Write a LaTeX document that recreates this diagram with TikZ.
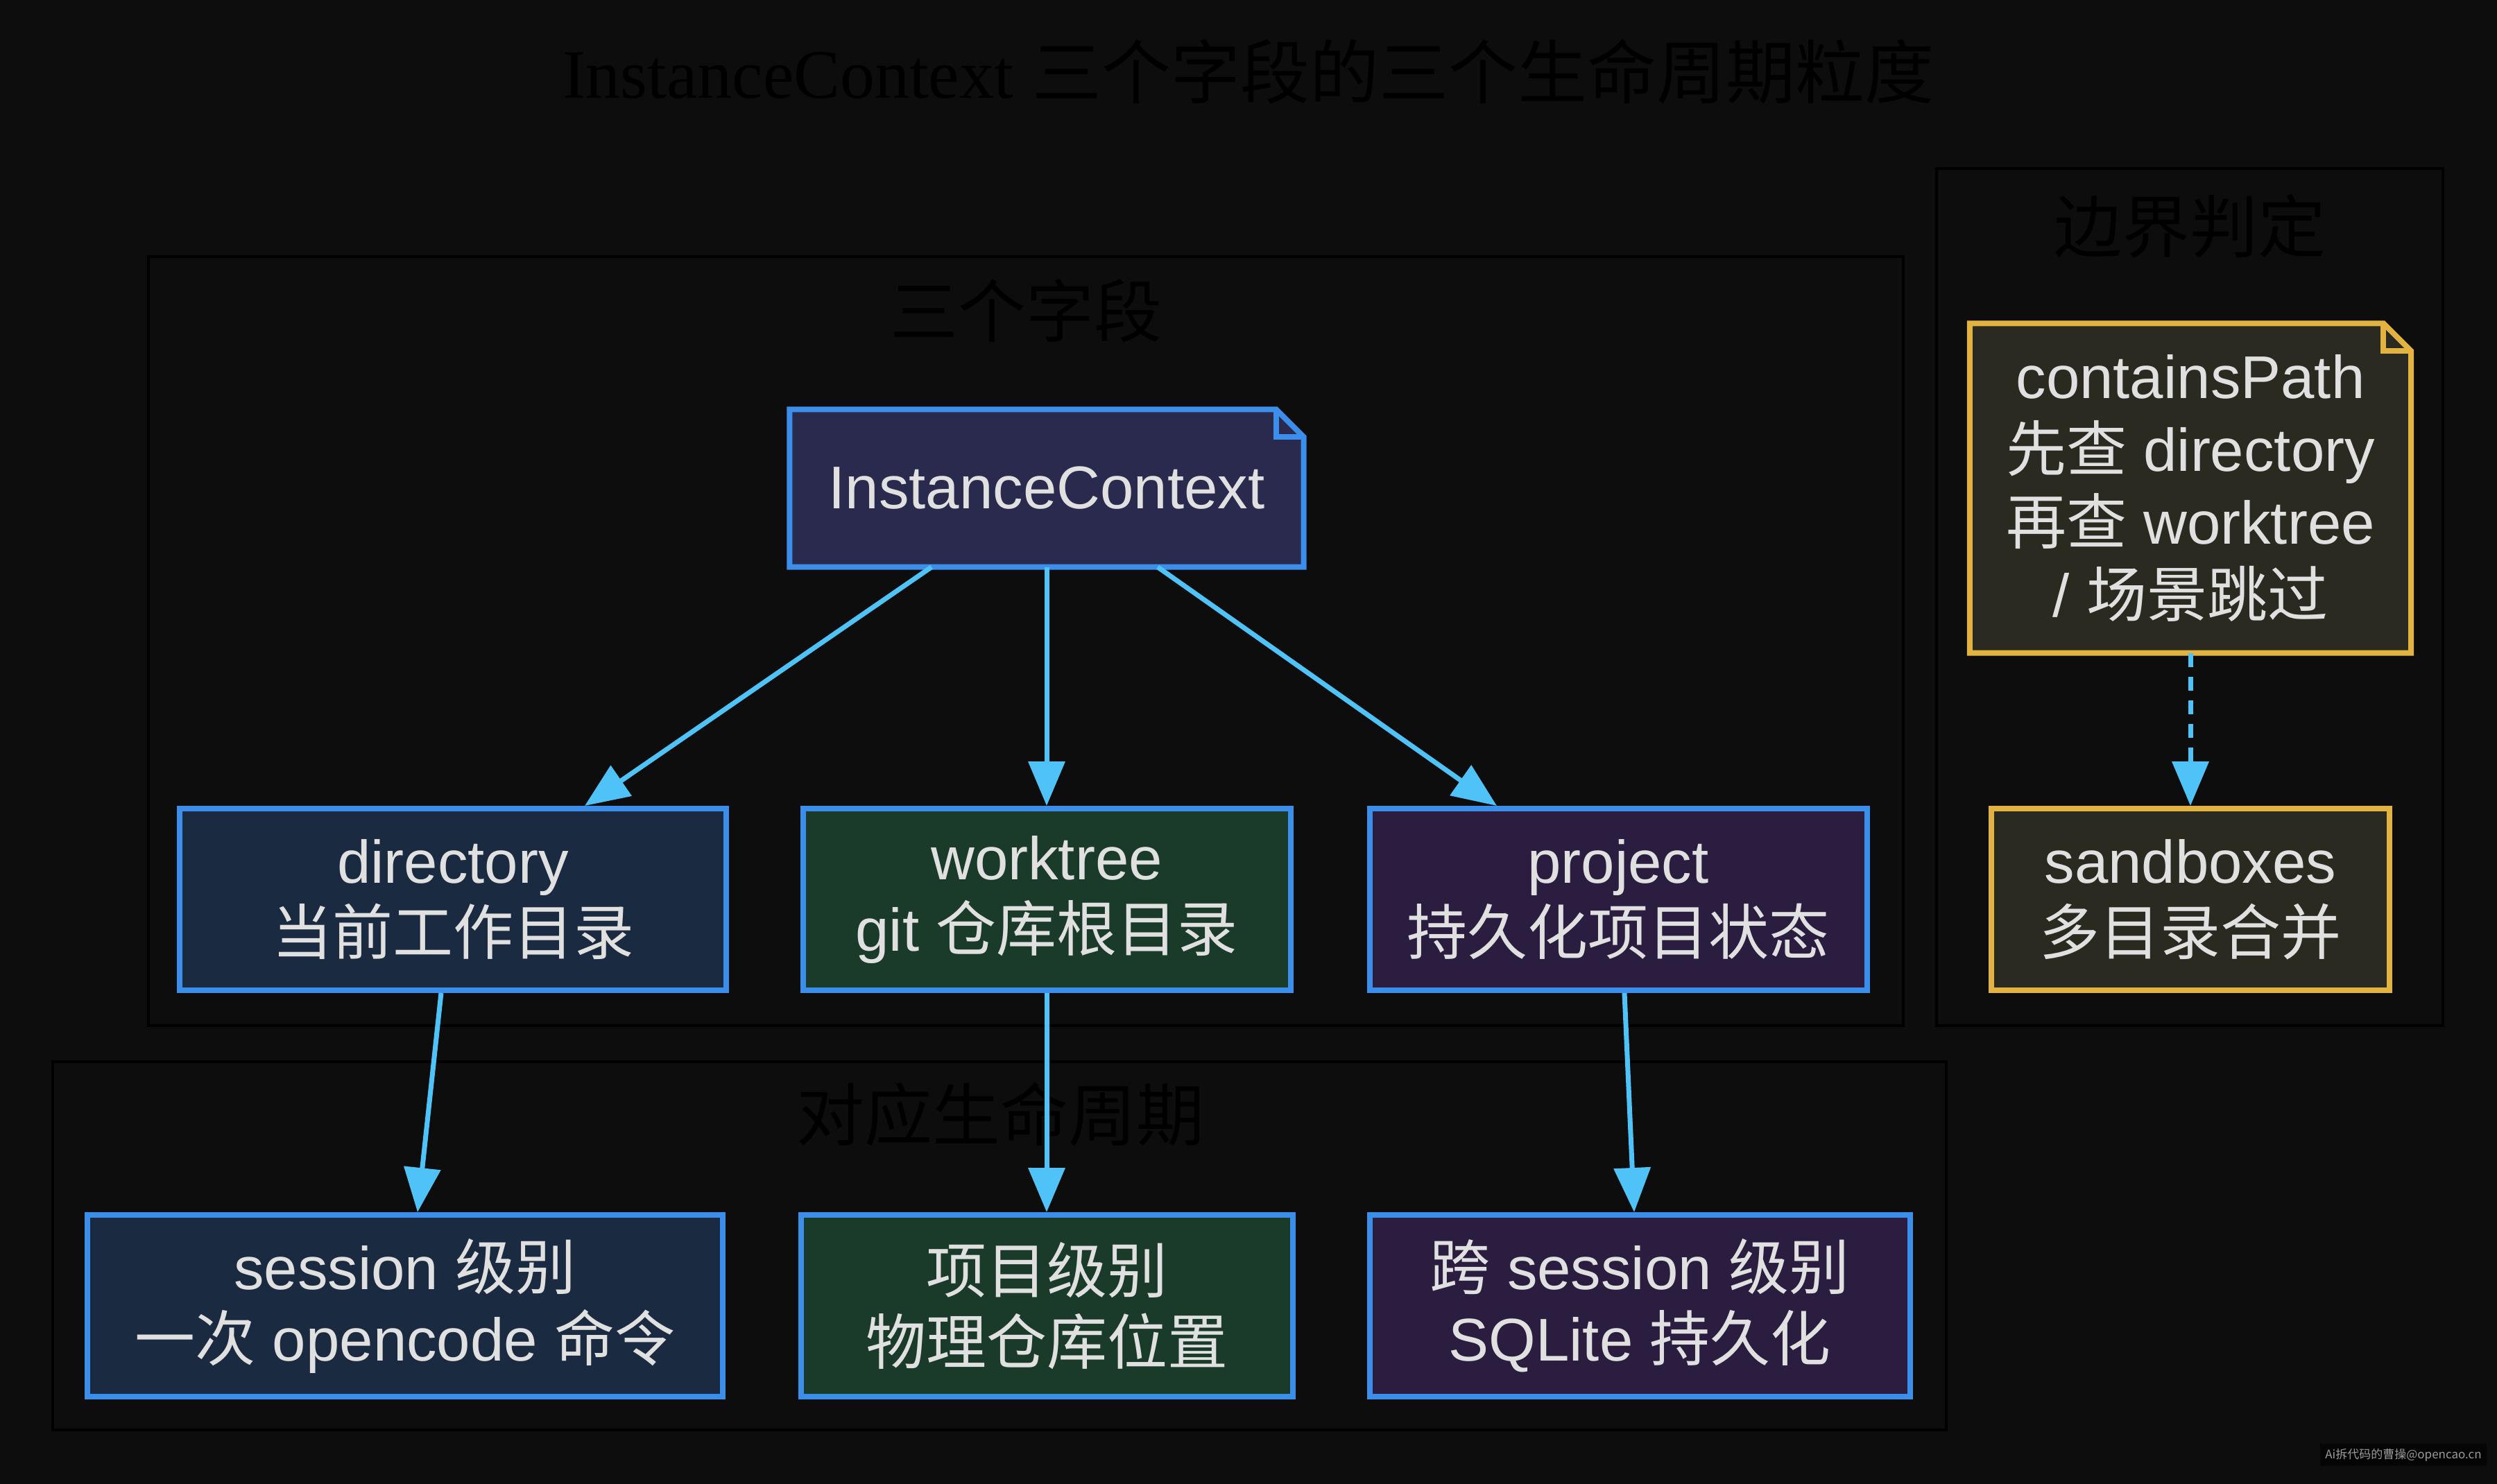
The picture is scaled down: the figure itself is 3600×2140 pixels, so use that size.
\documentclass[tikz,border=0pt]{standalone}
\usepackage{fontspec}
\setmainfont{Liberation Sans}
\newfontfamily\zhfont{Noto Sans CJK SC}
\newfontfamily\titleserif{Liberation Serif}
\usetikzlibrary{arrows.meta}
\newcommand\zh[1]{{\zhfont #1}}
\definecolor{bgc}{HTML}{0D0D0D}
\definecolor{txt}{HTML}{E0E0E0}
\definecolor{edgec}{HTML}{4FC3F7}
\definecolor{blueb}{HTML}{3B8EEA}
\definecolor{goldb}{HTML}{E3B341}
\definecolor{icfill}{HTML}{2A2A4E}
\definecolor{navyfill}{HTML}{1A2A40}
\definecolor{greenfill}{HTML}{1A3A2A}
\definecolor{purplefill}{HTML}{2A1D40}
\definecolor{olivefill}{HTML}{2A2A20}
\definecolor{wmfill}{HTML}{050505}
\definecolor{wmtext}{HTML}{9A9A9A}
\pgfdeclarelayer{back}
\pgfdeclarelayer{notes}
\pgfsetlayers{back,notes,main}
\tikzset{
  nodebox/.style={rectangle, draw=blueb, line width=8pt, text=txt, align=center,
    inner sep=0pt, minimum height=262pt, font=\fontsize{87}{103}\selectfont},
  notebox/.style={rectangle, draw=none, text=txt, align=center, inner sep=0pt,
    font=\fontsize{87}{105}\selectfont},
  cluster/.style={rectangle, draw=black, line width=4pt, inner sep=0pt},
  clabel/.style={text=black, font=\zhfont\fontsize{98}{110}\selectfont, inner sep=0pt},
  edge/.style={draw=edgec, line width=7pt, -{Triangle[length=64pt,width=52pt]}},
  dashededge/.style={edge, dash pattern=on 20pt off 14pt},
}
\newcommand\notepath[3]{%
  \begin{pgfonlayer}{notes}
  \filldraw[fill=#3, draw=#2, line width=8pt, line join=miter]
    (#1.north west) -- ([xshift=-40pt]#1.north east) -- ([yshift=-40pt]#1.north east)
    -- (#1.south east) -- (#1.south west) -- cycle;
  \draw[draw=#2, line width=8pt, line join=miter]
    ([xshift=-40pt]#1.north east) -- ([xshift=-40pt,yshift=-40pt]#1.north east)
    -- ([yshift=-40pt]#1.north east);
  \end{pgfonlayer}}
\begin{document}
\begin{tikzpicture}[x=1pt,y=-1pt]
\begin{pgfonlayer}{back}
\fill[bgc] (0,0) rectangle (3600,2140);
\end{pgfonlayer}
\useasboundingbox (0,0) rectangle (3600,2140);

% title
\node[text=black, inner sep=0pt, font=\fontsize{100}{110}\selectfont] (title) at (1800,103)
  {{\titleserif InstanceContext} \zh{三个字段的三个生命周期粒度}};

% clusters
\node[cluster, minimum width=2530pt, minimum height=1109pt] (clfields) at (1479,924.5) {};
\node[cluster, minimum width=2730pt, minimum height=531pt] (cllife) at (1441,1796.5) {};
\node[cluster, minimum width=730pt, minimum height=1236pt] (clbound) at (3157,861) {};
\node[clabel] (lfields) at (1479,448) {三个字段};
\node[clabel] (llife) at (1442,1607) {对应生命周期};
\node[clabel] (lbound) at (3157,326) {边界判定};

% nodes
\node[notebox, minimum width=741pt, minimum height=227pt] (ic) at (1509,704) {InstanceContext};
\notepath{ic}{blueb}{icfill}
\node[nodebox, fill=navyfill, minimum width=788pt] (dir) at (653,1297) {directory\\\zh{当前工作目录}};
\node[nodebox, fill=greenfill, minimum width=703pt] (wt) at (1509,1297) {worktree\\git \zh{仓库根目录}};
\node[nodebox, fill=purplefill, minimum width=717pt] (proj) at (2333,1297) {project\\\zh{持久化项目状态}};
\node[nodebox, fill=navyfill, minimum width=916pt] (sess) at (584,1883) {session \zh{级别}\\\zh{一次} opencode \zh{命令}};
\node[nodebox, fill=greenfill, minimum width=709pt] (projlvl) at (1509,1883) {\zh{项目级别}\\\zh{物理仓库位置}};
\node[nodebox, fill=purplefill, minimum width=779pt] (cross) at (2364,1883) {\zh{跨} session \zh{级别}\\SQLite \zh{持久化}};
\node[notebox, minimum width=636pt, minimum height=475pt] (cp) at (3158,704)
  {containsPath\\\zh{先查} directory\\\zh{再查} worktree\\/ \zh{场景跳过}};
\notepath{cp}{goldb}{olivefill}
\node[nodebox, draw=goldb, fill=olivefill, minimum width=574pt] (sb) at (3158,1297) {sandboxes\\\zh{多目录合并}};

% edges
\draw[edge] ([xshift=-166pt]ic.south) -- ([xshift=190pt]dir.north);
\draw[edge] (ic.south) -- (wt.north);
\draw[edge] ([xshift=160pt]ic.south) -- ([xshift=-175pt]proj.north);
\draw[edge] ([xshift=-17pt]dir.south) -- ([xshift=18pt]sess.north);
\draw[edge] (wt.south) -- (projlvl.north);
\draw[edge] ([xshift=9pt]proj.south) -- ([xshift=-8pt]cross.north);
\draw[dashededge] (cp.south) -- (sb.north);

% watermark
\node[fill=wmfill, text=wmtext, inner sep=7pt, font=\zhfont\fontsize{17}{20}\selectfont] (wm) at (3465,2098)
  {Ai拆代码的曹操@opencao.cn};
\end{tikzpicture}
\end{document}
